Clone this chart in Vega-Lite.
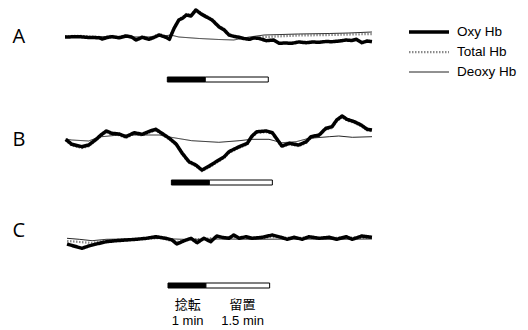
{
  "$schema": "https://vega.github.io/schema/vega-lite/v6.json",
  "padding": {"left": 12, "top": 0, "right": 0, "bottom": 0},
  "bounds": "flush",
  "config": {"view": {"stroke": null}, "legend": {"clipHeight": 18, "rowPadding": 2}},
  "data": {"values": [
    {"kind":"tr","panel":"A","series":"Oxy Hb","t":0,"v":0},{"kind":"tr","panel":"A","series":"Oxy Hb","t":21,"v":0.03},{"kind":"tr","panel":"A","series":"Oxy Hb","t":35,"v":-0.05},{"kind":"tr","panel":"A","series":"Oxy Hb","t":50,"v":-0.07},{"kind":"tr","panel":"A","series":"Oxy Hb","t":55,"v":-0.2},{"kind":"tr","panel":"A","series":"Oxy Hb","t":62,"v":-0.05},{"kind":"tr","panel":"A","series":"Oxy Hb","t":69,"v":0.03},{"kind":"tr","panel":"A","series":"Oxy Hb","t":80,"v":-0.08},{"kind":"tr","panel":"A","series":"Oxy Hb","t":90,"v":0.1},{"kind":"tr","panel":"A","series":"Oxy Hb","t":98,"v":0.0},{"kind":"tr","panel":"A","series":"Oxy Hb","t":105,"v":-0.3},{"kind":"tr","panel":"A","series":"Oxy Hb","t":114,"v":-0.03},{"kind":"tr","panel":"A","series":"Oxy Hb","t":124,"v":-0.23},{"kind":"tr","panel":"A","series":"Oxy Hb","t":131,"v":-0.05},{"kind":"tr","panel":"A","series":"Oxy Hb","t":139,"v":0.2},{"kind":"tr","panel":"A","series":"Oxy Hb","t":149,"v":-0.03},{"kind":"tr","panel":"A","series":"Oxy Hb","t":154,"v":-0.23},{"kind":"tr","panel":"A","series":"Oxy Hb","t":161,"v":0.87},{"kind":"tr","panel":"A","series":"Oxy Hb","t":168,"v":1.7},{"kind":"tr","panel":"A","series":"Oxy Hb","t":174,"v":1.9},{"kind":"tr","panel":"A","series":"Oxy Hb","t":179,"v":2.2},{"kind":"tr","panel":"A","series":"Oxy Hb","t":186,"v":2.1},{"kind":"tr","panel":"A","series":"Oxy Hb","t":193,"v":2.7},{"kind":"tr","panel":"A","series":"Oxy Hb","t":201,"v":2.3},{"kind":"tr","panel":"A","series":"Oxy Hb","t":208,"v":2.03},{"kind":"tr","panel":"A","series":"Oxy Hb","t":217,"v":1.7},{"kind":"tr","panel":"A","series":"Oxy Hb","t":227,"v":1.03},{"kind":"tr","panel":"A","series":"Oxy Hb","t":235,"v":0.7},{"kind":"tr","panel":"A","series":"Oxy Hb","t":242,"v":0.2},{"kind":"tr","panel":"A","series":"Oxy Hb","t":250,"v":0.05},{"kind":"tr","panel":"A","series":"Oxy Hb","t":257,"v":-0.03},{"kind":"tr","panel":"A","series":"Oxy Hb","t":264,"v":-0.15},{"kind":"tr","panel":"A","series":"Oxy Hb","t":272,"v":-0.23},{"kind":"tr","panel":"A","series":"Oxy Hb","t":279,"v":-0.1},{"kind":"tr","panel":"A","series":"Oxy Hb","t":286,"v":-0.13},{"kind":"tr","panel":"A","series":"Oxy Hb","t":297,"v":-0.37},{"kind":"tr","panel":"A","series":"Oxy Hb","t":308,"v":-0.3},{"kind":"tr","panel":"A","series":"Oxy Hb","t":316,"v":-0.63},{"kind":"tr","panel":"A","series":"Oxy Hb","t":325,"v":-0.6},{"kind":"tr","panel":"A","series":"Oxy Hb","t":335,"v":-0.63},{"kind":"tr","panel":"A","series":"Oxy Hb","t":345,"v":-0.5},{"kind":"tr","panel":"A","series":"Oxy Hb","t":356,"v":-0.57},{"kind":"tr","panel":"A","series":"Oxy Hb","t":365,"v":-0.5},{"kind":"tr","panel":"A","series":"Oxy Hb","t":375,"v":-0.53},{"kind":"tr","panel":"A","series":"Oxy Hb","t":385,"v":-0.45},{"kind":"tr","panel":"A","series":"Oxy Hb","t":394,"v":-0.47},{"kind":"tr","panel":"A","series":"Oxy Hb","t":405,"v":-0.4},{"kind":"tr","panel":"A","series":"Oxy Hb","t":415,"v":-0.3},{"kind":"tr","panel":"A","series":"Oxy Hb","t":423,"v":-0.35},{"kind":"tr","panel":"A","series":"Oxy Hb","t":430,"v":-0.23},{"kind":"tr","panel":"A","series":"Oxy Hb","t":438,"v":-0.57},{"kind":"tr","panel":"A","series":"Oxy Hb","t":446,"v":-0.4},{"kind":"tr","panel":"A","series":"Oxy Hb","t":453,"v":-0.47},
    {"kind":"tr","panel":"A","series":"Total Hb","t":0,"v":0.08},{"kind":"tr","panel":"A","series":"Total Hb","t":21,"v":0.12},{"kind":"tr","panel":"A","series":"Total Hb","t":35,"v":0.05},{"kind":"tr","panel":"A","series":"Total Hb","t":50,"v":0.02},{"kind":"tr","panel":"A","series":"Total Hb","t":55,"v":-0.1},{"kind":"tr","panel":"A","series":"Total Hb","t":62,"v":0.05},{"kind":"tr","panel":"A","series":"Total Hb","t":69,"v":0.12},{"kind":"tr","panel":"A","series":"Total Hb","t":80,"v":0.02},{"kind":"tr","panel":"A","series":"Total Hb","t":90,"v":0.2},{"kind":"tr","panel":"A","series":"Total Hb","t":98,"v":0.1},{"kind":"tr","panel":"A","series":"Total Hb","t":105,"v":-0.2},{"kind":"tr","panel":"A","series":"Total Hb","t":114,"v":0.07},{"kind":"tr","panel":"A","series":"Total Hb","t":124,"v":-0.13},{"kind":"tr","panel":"A","series":"Total Hb","t":131,"v":0.05},{"kind":"tr","panel":"A","series":"Total Hb","t":139,"v":0.3},{"kind":"tr","panel":"A","series":"Total Hb","t":149,"v":0.07},{"kind":"tr","panel":"A","series":"Total Hb","t":154,"v":-0.13},{"kind":"tr","panel":"A","series":"Total Hb","t":161,"v":0.97},{"kind":"tr","panel":"A","series":"Total Hb","t":168,"v":1.8},{"kind":"tr","panel":"A","series":"Total Hb","t":174,"v":2.0},{"kind":"tr","panel":"A","series":"Total Hb","t":179,"v":2.3},{"kind":"tr","panel":"A","series":"Total Hb","t":186,"v":2.2},{"kind":"tr","panel":"A","series":"Total Hb","t":193,"v":2.8},{"kind":"tr","panel":"A","series":"Total Hb","t":201,"v":2.4},{"kind":"tr","panel":"A","series":"Total Hb","t":208,"v":2.13},{"kind":"tr","panel":"A","series":"Total Hb","t":217,"v":1.8},{"kind":"tr","panel":"A","series":"Total Hb","t":227,"v":1.13},{"kind":"tr","panel":"A","series":"Total Hb","t":235,"v":0.8},{"kind":"tr","panel":"A","series":"Total Hb","t":242,"v":0.3},{"kind":"tr","panel":"A","series":"Total Hb","t":257,"v":-0.1},{"kind":"tr","panel":"A","series":"Total Hb","t":272,"v":-0.15},{"kind":"tr","panel":"A","series":"Total Hb","t":294,"v":0.0},{"kind":"tr","panel":"A","series":"Total Hb","t":345,"v":0.15},{"kind":"tr","panel":"A","series":"Total Hb","t":390,"v":0.2},{"kind":"tr","panel":"A","series":"Total Hb","t":453,"v":0.3},
    {"kind":"tr","panel":"A","series":"Deoxy Hb","t":0,"v":-0.05},{"kind":"tr","panel":"A","series":"Deoxy Hb","t":35,"v":0.05},{"kind":"tr","panel":"A","series":"Deoxy Hb","t":80,"v":0},{"kind":"tr","panel":"A","series":"Deoxy Hb","t":124,"v":0},{"kind":"tr","panel":"A","series":"Deoxy Hb","t":146,"v":0.1},{"kind":"tr","panel":"A","series":"Deoxy Hb","t":156,"v":0.2},{"kind":"tr","panel":"A","series":"Deoxy Hb","t":168,"v":0.0},{"kind":"tr","panel":"A","series":"Deoxy Hb","t":198,"v":-0.15},{"kind":"tr","panel":"A","series":"Deoxy Hb","t":227,"v":-0.25},{"kind":"tr","panel":"A","series":"Deoxy Hb","t":249,"v":-0.3},{"kind":"tr","panel":"A","series":"Deoxy Hb","t":272,"v":0},{"kind":"tr","panel":"A","series":"Deoxy Hb","t":294,"v":0.2},{"kind":"tr","panel":"A","series":"Deoxy Hb","t":345,"v":0.3},{"kind":"tr","panel":"A","series":"Deoxy Hb","t":390,"v":0.35},{"kind":"tr","panel":"A","series":"Deoxy Hb","t":419,"v":0.4},{"kind":"tr","panel":"A","series":"Deoxy Hb","t":453,"v":0.5},
    {"kind":"tr","panel":"B","series":"Oxy Hb","t":1,"v":0.07},{"kind":"tr","panel":"B","series":"Oxy Hb","t":10,"v":-0.43},{"kind":"tr","panel":"B","series":"Oxy Hb","t":25,"v":-0.67},{"kind":"tr","panel":"B","series":"Oxy Hb","t":35,"v":-0.5},{"kind":"tr","panel":"B","series":"Oxy Hb","t":46,"v":0.07},{"kind":"tr","panel":"B","series":"Oxy Hb","t":53,"v":0.5},{"kind":"tr","panel":"B","series":"Oxy Hb","t":61,"v":0.9},{"kind":"tr","panel":"B","series":"Oxy Hb","t":69,"v":0.67},{"kind":"tr","panel":"B","series":"Oxy Hb","t":80,"v":0.6},{"kind":"tr","panel":"B","series":"Oxy Hb","t":90,"v":0.33},{"kind":"tr","panel":"B","series":"Oxy Hb","t":102,"v":0.73},{"kind":"tr","panel":"B","series":"Oxy Hb","t":114,"v":0.57},{"kind":"tr","panel":"B","series":"Oxy Hb","t":127,"v":0.93},{"kind":"tr","panel":"B","series":"Oxy Hb","t":134,"v":1.07},{"kind":"tr","panel":"B","series":"Oxy Hb","t":143,"v":0.67},{"kind":"tr","panel":"B","series":"Oxy Hb","t":154,"v":0.17},{"kind":"tr","panel":"B","series":"Oxy Hb","t":164,"v":-0.4},{"kind":"tr","panel":"B","series":"Oxy Hb","t":173,"v":-1.33},{"kind":"tr","panel":"B","series":"Oxy Hb","t":183,"v":-2.17},{"kind":"tr","panel":"B","series":"Oxy Hb","t":193,"v":-2.5},{"kind":"tr","panel":"B","series":"Oxy Hb","t":202,"v":-3.0},{"kind":"tr","panel":"B","series":"Oxy Hb","t":213,"v":-2.6},{"kind":"tr","panel":"B","series":"Oxy Hb","t":223,"v":-2.17},{"kind":"tr","panel":"B","series":"Oxy Hb","t":235,"v":-1.67},{"kind":"tr","panel":"B","series":"Oxy Hb","t":242,"v":-1.17},{"kind":"tr","panel":"B","series":"Oxy Hb","t":257,"v":-0.67},{"kind":"tr","panel":"B","series":"Oxy Hb","t":269,"v":-0.33},{"kind":"tr","panel":"B","series":"Oxy Hb","t":276,"v":0.4},{"kind":"tr","panel":"B","series":"Oxy Hb","t":283,"v":0.83},{"kind":"tr","panel":"B","series":"Oxy Hb","t":297,"v":0.9},{"kind":"tr","panel":"B","series":"Oxy Hb","t":306,"v":0.73},{"kind":"tr","panel":"B","series":"Oxy Hb","t":313,"v":0.07},{"kind":"tr","panel":"B","series":"Oxy Hb","t":320,"v":-0.6},{"kind":"tr","panel":"B","series":"Oxy Hb","t":331,"v":-0.33},{"kind":"tr","panel":"B","series":"Oxy Hb","t":345,"v":-0.5},{"kind":"tr","panel":"B","series":"Oxy Hb","t":356,"v":-0.17},{"kind":"tr","panel":"B","series":"Oxy Hb","t":363,"v":0.33},{"kind":"tr","panel":"B","series":"Oxy Hb","t":375,"v":0.5},{"kind":"tr","panel":"B","series":"Oxy Hb","t":385,"v":1.17},{"kind":"tr","panel":"B","series":"Oxy Hb","t":394,"v":1.33},{"kind":"tr","panel":"B","series":"Oxy Hb","t":401,"v":2.0},{"kind":"tr","panel":"B","series":"Oxy Hb","t":409,"v":2.4},{"kind":"tr","panel":"B","series":"Oxy Hb","t":416,"v":2.07},{"kind":"tr","panel":"B","series":"Oxy Hb","t":427,"v":1.83},{"kind":"tr","panel":"B","series":"Oxy Hb","t":437,"v":1.5},{"kind":"tr","panel":"B","series":"Oxy Hb","t":446,"v":1.07},{"kind":"tr","panel":"B","series":"Oxy Hb","t":453,"v":1.0},
    {"kind":"tr","panel":"B","series":"Total Hb","t":1,"v":-0.05},{"kind":"tr","panel":"B","series":"Total Hb","t":10,"v":-0.55},{"kind":"tr","panel":"B","series":"Total Hb","t":25,"v":-0.8},{"kind":"tr","panel":"B","series":"Total Hb","t":35,"v":-0.62},{"kind":"tr","panel":"B","series":"Total Hb","t":46,"v":-0.05},{"kind":"tr","panel":"B","series":"Total Hb","t":53,"v":0.38},{"kind":"tr","panel":"B","series":"Total Hb","t":61,"v":0.78},{"kind":"tr","panel":"B","series":"Total Hb","t":69,"v":0.55},{"kind":"tr","panel":"B","series":"Total Hb","t":80,"v":0.48},{"kind":"tr","panel":"B","series":"Total Hb","t":90,"v":0.21},{"kind":"tr","panel":"B","series":"Total Hb","t":102,"v":0.61},{"kind":"tr","panel":"B","series":"Total Hb","t":114,"v":0.45},{"kind":"tr","panel":"B","series":"Total Hb","t":127,"v":0.81},{"kind":"tr","panel":"B","series":"Total Hb","t":134,"v":0.95},{"kind":"tr","panel":"B","series":"Total Hb","t":143,"v":0.55},{"kind":"tr","panel":"B","series":"Total Hb","t":154,"v":0.05},{"kind":"tr","panel":"B","series":"Total Hb","t":164,"v":-0.52},{"kind":"tr","panel":"B","series":"Total Hb","t":173,"v":-1.45},{"kind":"tr","panel":"B","series":"Total Hb","t":183,"v":-2.29},{"kind":"tr","panel":"B","series":"Total Hb","t":193,"v":-2.62},{"kind":"tr","panel":"B","series":"Total Hb","t":202,"v":-3.12},{"kind":"tr","panel":"B","series":"Total Hb","t":213,"v":-2.72},{"kind":"tr","panel":"B","series":"Total Hb","t":223,"v":-2.29},{"kind":"tr","panel":"B","series":"Total Hb","t":235,"v":-1.79},{"kind":"tr","panel":"B","series":"Total Hb","t":242,"v":-1.29},{"kind":"tr","panel":"B","series":"Total Hb","t":257,"v":-0.79},{"kind":"tr","panel":"B","series":"Total Hb","t":269,"v":-0.45},{"kind":"tr","panel":"B","series":"Total Hb","t":276,"v":0.28},{"kind":"tr","panel":"B","series":"Total Hb","t":283,"v":0.71},{"kind":"tr","panel":"B","series":"Total Hb","t":297,"v":0.78},{"kind":"tr","panel":"B","series":"Total Hb","t":306,"v":0.61},{"kind":"tr","panel":"B","series":"Total Hb","t":313,"v":-0.05},{"kind":"tr","panel":"B","series":"Total Hb","t":320,"v":-0.72},{"kind":"tr","panel":"B","series":"Total Hb","t":331,"v":-0.45},{"kind":"tr","panel":"B","series":"Total Hb","t":345,"v":-0.62},{"kind":"tr","panel":"B","series":"Total Hb","t":356,"v":-0.29},{"kind":"tr","panel":"B","series":"Total Hb","t":363,"v":0.21},{"kind":"tr","panel":"B","series":"Total Hb","t":375,"v":0.4},{"kind":"tr","panel":"B","series":"Total Hb","t":385,"v":1.05},{"kind":"tr","panel":"B","series":"Total Hb","t":394,"v":1.2},{"kind":"tr","panel":"B","series":"Total Hb","t":401,"v":1.88},{"kind":"tr","panel":"B","series":"Total Hb","t":409,"v":2.28},{"kind":"tr","panel":"B","series":"Total Hb","t":416,"v":1.95},{"kind":"tr","panel":"B","series":"Total Hb","t":427,"v":1.71},{"kind":"tr","panel":"B","series":"Total Hb","t":437,"v":1.38},{"kind":"tr","panel":"B","series":"Total Hb","t":446,"v":0.95},{"kind":"tr","panel":"B","series":"Total Hb","t":453,"v":0.88},
    {"kind":"tr","panel":"B","series":"Deoxy Hb","t":1,"v":0.1},{"kind":"tr","panel":"B","series":"Deoxy Hb","t":10,"v":0.0},{"kind":"tr","panel":"B","series":"Deoxy Hb","t":35,"v":-0.1},{"kind":"tr","panel":"B","series":"Deoxy Hb","t":50,"v":0.3},{"kind":"tr","panel":"B","series":"Deoxy Hb","t":80,"v":0.5},{"kind":"tr","panel":"B","series":"Deoxy Hb","t":139,"v":0.5},{"kind":"tr","panel":"B","series":"Deoxy Hb","t":154,"v":0.3},{"kind":"tr","panel":"B","series":"Deoxy Hb","t":187,"v":-0.07},{"kind":"tr","panel":"B","series":"Deoxy Hb","t":227,"v":-0.23},{"kind":"tr","panel":"B","series":"Deoxy Hb","t":257,"v":-0.07},{"kind":"tr","panel":"B","series":"Deoxy Hb","t":276,"v":0.07},{"kind":"tr","panel":"B","series":"Deoxy Hb","t":301,"v":0.07},{"kind":"tr","panel":"B","series":"Deoxy Hb","t":320,"v":-0.27},{"kind":"tr","panel":"B","series":"Deoxy Hb","t":341,"v":-0.17},{"kind":"tr","panel":"B","series":"Deoxy Hb","t":360,"v":0.17},{"kind":"tr","panel":"B","series":"Deoxy Hb","t":390,"v":0.33},{"kind":"tr","panel":"B","series":"Deoxy Hb","t":404,"v":0.4},{"kind":"tr","panel":"B","series":"Deoxy Hb","t":424,"v":0.27},{"kind":"tr","panel":"B","series":"Deoxy Hb","t":453,"v":0.33},
    {"kind":"tr","panel":"C","series":"Oxy Hb","t":3,"v":-0.1},{"kind":"tr","panel":"C","series":"Oxy Hb","t":13,"v":-0.3},{"kind":"tr","panel":"C","series":"Oxy Hb","t":25,"v":-0.53},{"kind":"tr","panel":"C","series":"Oxy Hb","t":35,"v":-0.3},{"kind":"tr","panel":"C","series":"Oxy Hb","t":46,"v":-0.1},{"kind":"tr","panel":"C","series":"Oxy Hb","t":61,"v":0.13},{"kind":"tr","panel":"C","series":"Oxy Hb","t":75,"v":0.23},{"kind":"tr","panel":"C","series":"Oxy Hb","t":90,"v":0.3},{"kind":"tr","panel":"C","series":"Oxy Hb","t":105,"v":0.37},{"kind":"tr","panel":"C","series":"Oxy Hb","t":120,"v":0.47},{"kind":"tr","panel":"C","series":"Oxy Hb","t":134,"v":0.63},{"kind":"tr","panel":"C","series":"Oxy Hb","t":149,"v":0.47},{"kind":"tr","panel":"C","series":"Oxy Hb","t":158,"v":0.3},{"kind":"tr","panel":"C","series":"Oxy Hb","t":165,"v":-0.1},{"kind":"tr","panel":"C","series":"Oxy Hb","t":176,"v":0.23},{"kind":"tr","panel":"C","series":"Oxy Hb","t":186,"v":0.47},{"kind":"tr","panel":"C","series":"Oxy Hb","t":195,"v":0.03},{"kind":"tr","panel":"C","series":"Oxy Hb","t":205,"v":0.47},{"kind":"tr","panel":"C","series":"Oxy Hb","t":215,"v":0.13},{"kind":"tr","panel":"C","series":"Oxy Hb","t":224,"v":0.7},{"kind":"tr","panel":"C","series":"Oxy Hb","t":233,"v":0.55},{"kind":"tr","panel":"C","series":"Oxy Hb","t":242,"v":0.47},{"kind":"tr","panel":"C","series":"Oxy Hb","t":249,"v":0.8},{"kind":"tr","panel":"C","series":"Oxy Hb","t":257,"v":0.47},{"kind":"tr","panel":"C","series":"Oxy Hb","t":267,"v":0.63},{"kind":"tr","panel":"C","series":"Oxy Hb","t":276,"v":0.47},{"kind":"tr","panel":"C","series":"Oxy Hb","t":291,"v":0.57},{"kind":"tr","panel":"C","series":"Oxy Hb","t":306,"v":0.8},{"kind":"tr","panel":"C","series":"Oxy Hb","t":319,"v":0.57},{"kind":"tr","panel":"C","series":"Oxy Hb","t":328,"v":0.37},{"kind":"tr","panel":"C","series":"Oxy Hb","t":338,"v":0.57},{"kind":"tr","panel":"C","series":"Oxy Hb","t":350,"v":0.37},{"kind":"tr","panel":"C","series":"Oxy Hb","t":360,"v":0.63},{"kind":"tr","panel":"C","series":"Oxy Hb","t":375,"v":0.47},{"kind":"tr","panel":"C","series":"Oxy Hb","t":390,"v":0.57},{"kind":"tr","panel":"C","series":"Oxy Hb","t":401,"v":0.37},{"kind":"tr","panel":"C","series":"Oxy Hb","t":415,"v":0.63},{"kind":"tr","panel":"C","series":"Oxy Hb","t":424,"v":0.37},{"kind":"tr","panel":"C","series":"Oxy Hb","t":438,"v":0.7},{"kind":"tr","panel":"C","series":"Oxy Hb","t":453,"v":0.57},
    {"kind":"tr","panel":"C","series":"Total Hb","t":3,"v":0.2},{"kind":"tr","panel":"C","series":"Total Hb","t":21,"v":0.1},{"kind":"tr","panel":"C","series":"Total Hb","t":40,"v":0.0},{"kind":"tr","panel":"C","series":"Total Hb","t":61,"v":0.25},{"kind":"tr","panel":"C","series":"Total Hb","t":94,"v":0.35},{"kind":"tr","panel":"C","series":"Total Hb","t":139,"v":0.5},{"kind":"tr","panel":"C","series":"Total Hb","t":165,"v":0.1},{"kind":"tr","panel":"C","series":"Total Hb","t":186,"v":0.4},{"kind":"tr","panel":"C","series":"Total Hb","t":205,"v":0.4},{"kind":"tr","panel":"C","series":"Total Hb","t":224,"v":0.55},{"kind":"tr","panel":"C","series":"Total Hb","t":249,"v":0.6},{"kind":"tr","panel":"C","series":"Total Hb","t":276,"v":0.45},{"kind":"tr","panel":"C","series":"Total Hb","t":306,"v":0.6},{"kind":"tr","panel":"C","series":"Total Hb","t":338,"v":0.5},{"kind":"tr","panel":"C","series":"Total Hb","t":360,"v":0.55},{"kind":"tr","panel":"C","series":"Total Hb","t":390,"v":0.5},{"kind":"tr","panel":"C","series":"Total Hb","t":415,"v":0.55},{"kind":"tr","panel":"C","series":"Total Hb","t":453,"v":0.5},
    {"kind":"tr","panel":"C","series":"Deoxy Hb","t":3,"v":0.47},{"kind":"tr","panel":"C","series":"Deoxy Hb","t":21,"v":0.37},{"kind":"tr","panel":"C","series":"Deoxy Hb","t":40,"v":0.23},{"kind":"tr","panel":"C","series":"Deoxy Hb","t":61,"v":0.37},{"kind":"tr","panel":"C","series":"Deoxy Hb","t":94,"v":0.4},{"kind":"tr","panel":"C","series":"Deoxy Hb","t":139,"v":0.45},{"kind":"tr","panel":"C","series":"Deoxy Hb","t":183,"v":0.35},{"kind":"tr","panel":"C","series":"Deoxy Hb","t":227,"v":0.4},{"kind":"tr","panel":"C","series":"Deoxy Hb","t":286,"v":0.37},{"kind":"tr","panel":"C","series":"Deoxy Hb","t":345,"v":0.4},{"kind":"tr","panel":"C","series":"Deoxy Hb","t":404,"v":0.37},{"kind":"tr","panel":"C","series":"Deoxy Hb","t":453,"v":0.4},
    {"kind":"stim","panel":"A","start":151,"mid":207,"end":300},
    {"kind":"stim","panel":"B","start":157,"mid":213,"end":306},
    {"kind":"stim","panel":"C","start":152,"mid":208,"end":302},
    {"kind":"lab","panel":"A","label":"A","t":-68},
    {"kind":"lab","panel":"B","label":"B","t":-68},
    {"kind":"lab","panel":"C","label":"C","t":-68},
    {"kind":"note","panel":"C","name":"捻転","dur":"1 min","t":181},
    {"kind":"note","panel":"C","name":"留置","dur":"1.5 min","t":262}
  ]},
  "facet": {"row": {"field": "panel", "type": "nominal", "title": null, "header": {"labels": false, "title": null}}},
  "spacing": 3,
  "spec": {
    "width": 309,
    "height": 100,
    "layer": [
      {
        "transform": [{"filter": "datum.kind === 'tr' && datum.series === 'Total Hb'"}],
        "mark": {"type": "line", "strokeCap": "butt"},
        "encoding": {
          "x": {"field": "t", "type": "quantitative", "scale": {"domain": [0, 456], "nice": false, "zero": false}, "axis": null},
          "y": {"field": "v", "type": "quantitative", "scale": {"domain": [-6.3, 3.7], "nice": false, "zero": false}, "axis": null},
          "stroke": {"field": "series", "type": "nominal", "scale": {"domain": ["Oxy Hb", "Total Hb", "Deoxy Hb"], "range": ["#000000", "#8a8a8a", "#222222"]}, "legend": {"orient": "none", "legendX": 342, "legendY": 23, "title": null, "symbolType": "stroke", "symbolSize": 1600, "labelFont": "Liberation Sans", "labelFontSize": 13.5, "labelColor": "#000000", "labelOffset": 6, "clipHeight": 18, "rowPadding": 2}},
          "strokeWidth": {"field": "series", "type": "nominal", "scale": {"type": "point", "domain": ["Oxy Hb", "Total Hb", "Deoxy Hb"], "range": [3.5, 1]}, "legend": {"orient": "none", "legendX": 342, "legendY": 23, "title": null, "symbolType": "stroke", "symbolSize": 1600, "labelFont": "Liberation Sans", "labelFontSize": 13.5, "labelColor": "#000000", "labelOffset": 6, "clipHeight": 18, "rowPadding": 2}},
          "strokeDash": {"field": "series", "type": "nominal", "scale": {"domain": ["Oxy Hb", "Total Hb", "Deoxy Hb"], "range": [[1, 0], [1.5, 1.5], [1, 0]]}, "legend": {"orient": "none", "legendX": 342, "legendY": 23, "title": null, "symbolType": "stroke", "symbolSize": 1600, "labelFont": "Liberation Sans", "labelFontSize": 13.5, "labelColor": "#000000", "labelOffset": 6, "clipHeight": 18, "rowPadding": 2}}
        }
      },
      {
        "transform": [{"filter": "datum.kind === 'tr' && datum.series === 'Deoxy Hb'"}],
        "mark": {"type": "line"},
        "encoding": {
          "x": {"field": "t", "type": "quantitative", "axis": null},
          "y": {"field": "v", "type": "quantitative", "axis": null},
          "stroke": {"field": "series", "type": "nominal"},
          "strokeWidth": {"field": "series", "type": "nominal"},
          "strokeDash": {"field": "series", "type": "nominal"}
        }
      },
      {
        "transform": [{"filter": "datum.kind === 'tr' && datum.series === 'Oxy Hb'"}],
        "mark": {"type": "line", "strokeJoin": "round"},
        "encoding": {
          "x": {"field": "t", "type": "quantitative", "axis": null},
          "y": {"field": "v", "type": "quantitative", "axis": null},
          "stroke": {"field": "series", "type": "nominal"},
          "strokeWidth": {"field": "series", "type": "nominal"},
          "strokeDash": {"field": "series", "type": "nominal"}
        }
      },
      {
        "transform": [{"filter": "datum.kind === 'stim'"}],
        "mark": {"type": "rect", "fill": "#000000", "stroke": "#000000", "strokeWidth": 1},
        "encoding": {
          "x": {"field": "start", "type": "quantitative", "axis": null},
          "x2": {"field": "mid"},
          "y": {"datum": -4.0, "type": "quantitative", "axis": null},
          "y2": {"datum": -4.5}
        }
      },
      {
        "transform": [{"filter": "datum.kind === 'stim'"}],
        "mark": {"type": "rect", "fill": "#ffffff", "stroke": "#000000", "strokeWidth": 1},
        "encoding": {
          "x": {"field": "mid", "type": "quantitative", "axis": null},
          "x2": {"field": "end"},
          "y": {"datum": -4.0, "type": "quantitative", "axis": null},
          "y2": {"datum": -4.5}
        }
      },
      {
        "transform": [{"filter": "datum.kind === 'lab' && datum.panel !== 'C'"}],
        "mark": {"type": "text", "font": "Open Sans", "fontSize": 20, "align": "center", "baseline": "middle", "color": "#000000"},
        "encoding": {
          "x": {"field": "t", "type": "quantitative", "axis": null},
          "y": {"datum": 0, "type": "quantitative", "axis": null},
          "text": {"field": "label"}
        }
      },
      {
        "transform": [{"filter": "datum.kind === 'lab' && datum.panel === 'C'"}],
        "mark": {"type": "text", "font": "Open Sans", "fontSize": 20, "align": "center", "baseline": "middle", "color": "#000000"},
        "encoding": {
          "x": {"field": "t", "type": "quantitative", "axis": null},
          "y": {"datum": 1.2, "type": "quantitative", "axis": null},
          "text": {"field": "label"}
        }
      },
      {
        "transform": [{"filter": "datum.kind === 'note'"}],
        "mark": {"type": "text", "font": "Noto Sans CJK JP", "fontSize": 13, "align": "center", "baseline": "middle", "color": "#000000"},
        "encoding": {
          "x": {"field": "t", "type": "quantitative", "axis": null},
          "y": {"datum": -6.2, "type": "quantitative", "axis": null},
          "text": {"field": "name"}
        }
      },
      {
        "transform": [{"filter": "datum.kind === 'note'"}],
        "mark": {"type": "text", "font": "Liberation Sans", "fontSize": 13, "align": "center", "baseline": "middle", "color": "#000000"},
        "encoding": {
          "x": {"field": "t", "type": "quantitative", "axis": null},
          "y": {"datum": -7.8, "type": "quantitative", "axis": null},
          "text": {"field": "dur"}
        }
      }
    ]
  }
}
